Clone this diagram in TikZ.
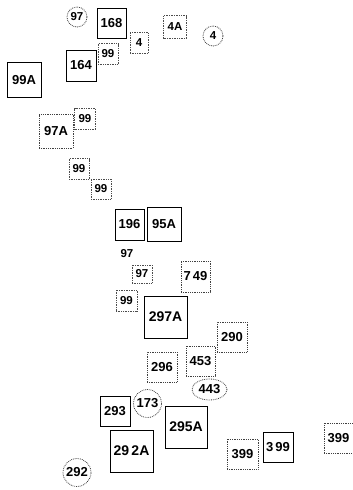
\documentclass[tikz,border=0pt]{standalone}
\usepackage{fontspec}
\setmainfont{Liberation Sans}
\usetikzlibrary{shapes.geometric}

\begin{document}
\begin{tikzpicture}[%
    x=1pt, y=-1pt,              % Pixel grid, top-down
    ]
% -------------------------------------------------
% Box styles
\tikzset{
  base/.style={inner sep=0pt, align=center, font=\fontsize{13}{13}\selectfont\bfseries},
  lot/.style={base, draw, line width=0.9pt, minimum width=30pt, minimum height=30pt},
  biglot/.style={lot, minimum width=43pt, minimum height=42pt, font=\fontsize{14}{14}\selectfont\bfseries},
  dlot/.style={base, draw=black!75, densely dotted, line width=0.8pt, minimum width=30pt, minimum height=30pt},
  small/.style={base, draw=black!70, densely dotted, line width=0.7pt, minimum width=21pt, minimum height=21pt, font=\fontsize{11.5}{11.5}\selectfont\bfseries},
  ring/.style={base, circle, draw=black!75, densely dotted, line width=0.8pt, minimum size=#1},
  ring/.default=20pt,
}
\useasboundingbox (0,0) rectangle (353,490);
% -------------------------------------------------
% Top group
\node [ring, font=\fontsize{11.5}{11.5}\selectfont\bfseries] (r97) at (77,17) {97};
\node [lot, minimum width=29pt] (l168) at (111.5,23) {168};
\node [small, minimum width=18pt] (l4) at (139,43) {4};
\node [small, minimum width=23pt, minimum height=23pt] (l4A) at (175,27) {4A};
\node [ring, font=\fontsize{11.5}{11.5}\selectfont\bfseries] (r4) at (213,36) {4};
\node [lot, minimum height=31pt] (l164) at (81,65.5) {164};
\node [small, minimum width=20pt] (l99a) at (108,54) {99};
\node [lot, minimum width=34pt, minimum height=35pt] (l99A) at (24,80) {99A};
% -------------------------------------------------
% Middle group
\node [dlot, minimum width=34pt, minimum height=34pt] (l97A) at (56,131) {97A};
\node [small] (l99b) at (85,119) {99};
\node [small, minimum width=20pt] (l99c) at (79,169) {99};
\node [small, minimum width=20pt, minimum height=20pt] (l99d) at (101,189) {99};
\node [lot, minimum width=29pt, minimum height=31pt] (l196) at (129.5,224.5) {196};
\node [lot, minimum width=34pt, minimum height=34pt] (l95A) at (164,224) {95A};
\node [base, font=\fontsize{11.5}{11.5}\selectfont\bfseries] (t97) at (127,254) {97};
\node [small, minimum width=20pt, minimum height=18pt] (l97) at (142,274) {97};
\node [dlot, minimum width=29pt, minimum height=31pt] (l749) at (195.5,276.5) {7\,49};
\node [small] (l99e) at (126.5,300.5) {99};
\node [biglot] (l297A) at (165.5,317) {297A};
% -------------------------------------------------
% Lower group
\node [dlot] (l290) at (232,337) {290};
\node [dlot] (l296) at (162,367) {296};
\node [dlot, minimum width=29pt] (l453) at (200.5,361) {453};
\node [base, ellipse, draw=black!75, densely dotted, line width=0.8pt,
       minimum width=35pt, minimum height=21pt] (e443) at (209.5,389.5) {443};
\node [ring=28pt] (r173) at (147.5,403.5) {173};
\node [lot] (l293) at (115,411) {293};
\node [biglot, minimum width=42pt] (l295A) at (186,427) {295A};
\node [biglot] (l292A) at (131.5,451) {29\,2A};
\node [ring=28pt] (r292) at (77,472.5) {292};
\node [dlot, minimum width=31pt] (l399a) at (242.5,454) {399};
\node [lot] (l399b) at (278,447) {3\,99};
\node [dlot, minimum width=29pt] (l399c) at (338.5,438) {399};
% -------------------------------------------------
\end{tikzpicture}
\end{document}
